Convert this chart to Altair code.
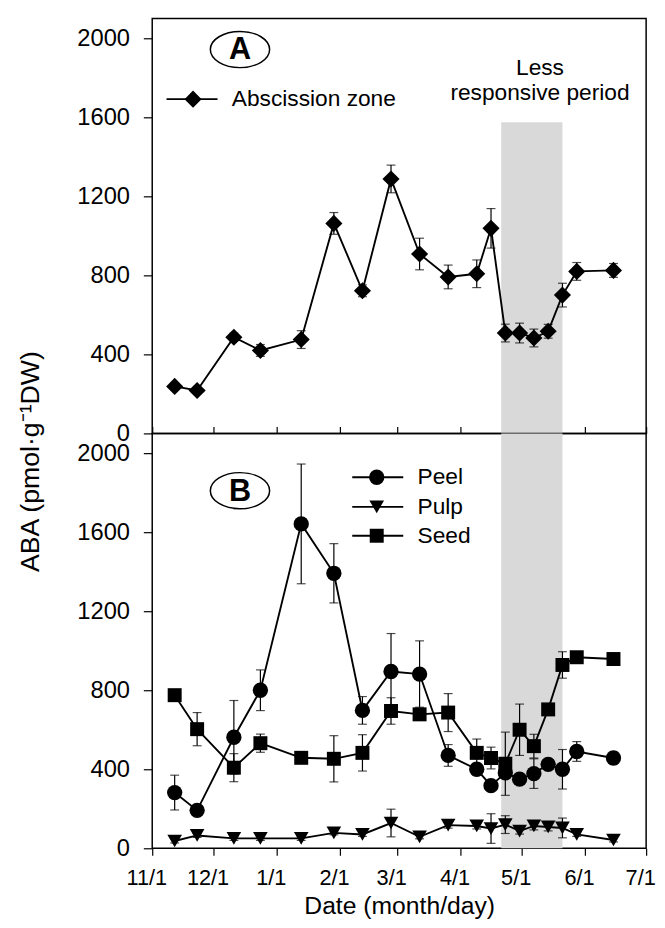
import altair as alt
import pandas as pd

# ---------------- data ----------------
dates = ["2006-11-12", "2006-11-23", "2006-12-11", "2006-12-24", "2007-01-13",
         "2007-01-29", "2007-02-12", "2007-02-26", "2007-03-12", "2007-03-26",
         "2007-04-09", "2007-04-16", "2007-04-23", "2007-04-30", "2007-05-07",
         "2007-05-14", "2007-05-21", "2007-05-28", "2007-06-15"]

abscission = [238, 217, 487, 420, 475, 1063, 722, 1288, 908, 792, 808, 1038,
              508, 508, 483, 517, 700, 820, 825]
abscission_err = [15, 15, 20, 30, 45, 55, 30, 70, 80, 60, 70, 100,
                  45, 50, 45, 35, 60, 45, 35]

peel = [282, 192, 562, 800, 1642, 1392, 698, 895, 882, 470, 400, 317,
        382, 350, 378, 425, 400, 490, 457]
peel_err = [88, 10, 186, 103, 303, 150, 70, 192, 168, 55, 30, 15,
            25, 20, 75, 20, 100, 50, 30]

pulp = [37, 65, 50, 50, 50, 78, 70, 128, 58, 117, 113, 100,
        120, 87, 113, 108, 103, 70, 42]
pulp_err = [10, 10, 10, 10, 10, 10, 10, 70, 10, 15, 15, 75,
            45, 15, 20, 20, 50, 10, 10]

seed = [775, 603, 408, 532, 458, 453, 483, 695, 678, 687, 483, 457,
        428, 600, 517, 703, 928, 967, 958]
seed_err = [20, 84, 71, 46, 20, 117, 92, 67, 20, 96, 70, 55,
            160, 130, 60, 20, 67, 20, 20]

series_names = ["Peel", "Pulp", "Seed"]
series_shapes = ["circle", "triangle-down", "square"]
series_sizes = [240, 200, 180]

month_ticks = ["2006-11-01", "2006-12-01", "2007-01-01", "2007-02-01", "2007-03-01",
               "2007-04-01", "2007-05-01", "2007-06-01", "2007-07-01"]
y_ticks = [0, 400, 800, 1200, 1600, 2000]
y_max = 2100

# shaded "less responsive period"
shade_start = "2007-04-21"
shade_end = "2007-05-21"
shade_top_a = 1575
shade_top_b = 2100

# annotation anchors (data coordinates)
panel_letter_date = "2006-12-14"
panel_letter_a_y = 1943
panel_letter_b_y = 1810
period_label_date = "2007-05-10"
period_label_lines = ["Less", "responsive period"]
period_label_y = [1850, 1722]

legend_a_line = ["2006-11-08", "2006-12-03"]
legend_a_marker = "2006-11-21"
legend_a_text = "2006-12-10"
legend_a_y = 1692

legend_b_line = ["2007-02-07", "2007-03-04"]
legend_b_marker = "2007-02-19"
legend_b_text = "2007-03-11"
legend_b_y = [1878, 1728, 1582]

FONT = "Liberation Sans"


def dt(s):
    y, m, d = (int(p) for p in s.split("-"))
    return alt.DateTime(year=y, month=m, date=d, utc=True)


x_scale = alt.Scale(type="utc", domain=[dt(month_ticks[0]), dt(month_ticks[-1])])
y_scale = alt.Scale(domain=[0, y_max], nice=False)

x_axis_a = alt.Axis(values=[dt(s) for s in month_ticks], labels=False, title=None,
                    tickSize=7, offset=-7, domain=False, grid=False,
                    tickColor="black", tickWidth=1.2)
x_axis_b = alt.Axis(values=[dt(s) for s in month_ticks], format="%-m/%-d",
                    title="Date (month/day)", tickSize=7, labelPadding=13,
                    labelFontSize=22, titleFontSize=25, titlePadding=5,
                    domain=False, grid=False, labelOffset=-6, labelOverlap=False,
                    labelFlush=False, tickColor="black", tickWidth=1.2,
                    titleFontWeight="normal")
y_axis_a = alt.Axis(values=y_ticks, format="d", title="ABA (pmol·g⁻¹DW)",
                    titleX=-109, titleY=448,
                    titleFontSize=27, titleFontWeight="normal", tickSize=9,
                    labelPadding=14, labelFontSize=24, domain=False, grid=False,
                    tickColor="black", tickWidth=1.2)
y_axis_b = alt.Axis(values=y_ticks, format="d", title=None, tickSize=9, labelPadding=14,
                    labelFontSize=24, domain=False, grid=False,
                    tickColor="black", tickWidth=1.2)


def X(field, axis):
    return alt.X(f"{field}:T", scale=x_scale, axis=axis)


def Y(field, axis):
    return alt.Y(f"{field}:Q", scale=y_scale, axis=axis)


def err_df(vals, errs, name):
    return pd.DataFrame({
        "date": dates, "v": vals,
        "lo": [v - e for v, e in zip(vals, errs)],
        "hi": [v + e for v, e in zip(vals, errs)],
        "series": name,
    })


def panel(df, xa, ya, shade_top, point_layers, legend_layers, letter_y, letter, extra=None):
    shade = alt.Chart(pd.DataFrame({"date": [shade_start], "end": [shade_end],
                                    "v": [0], "top": [shade_top]})).mark_rect(
        color="#d9d9d9").encode(x=X("date", xa), x2="end:T", y=Y("v", ya), y2="top:Q")
    base = alt.Chart(df)
    rules = base.mark_rule(color="black", strokeWidth=1.2).encode(
        x=X("date", xa), y=Y("lo", ya), y2="hi:Q")
    cap_hi = base.mark_tick(orient="horizontal", size=9, thickness=1.2, color="black").encode(
        x=X("date", xa), y=Y("hi", ya))
    cap_lo = base.mark_tick(orient="horizontal", size=9, thickness=1.2, color="black").encode(
        x=X("date", xa), y=Y("lo", ya))
    lines = base.mark_line(color="black", strokeWidth=1.9).encode(
        x=X("date", xa), y=Y("v", ya), detail="series:N")
    ell = alt.Chart(pd.DataFrame({"date": [panel_letter_date], "v": [letter_y]})).mark_point(
        shape="M-1,0A1,0.61,0,1,0,1,0A1,0.61,0,1,0,-1,0Z", size=3600, filled=False,
        stroke="black", strokeWidth=1.5, opacity=1).encode(x=X("date", xa), y=Y("v", ya))
    let = alt.Chart(pd.DataFrame({"date": [panel_letter_date], "v": [letter_y], "t": [letter]})).mark_text(
        font=FONT, fontSize=31, fontWeight="bold", color="black", baseline="middle",
        align="center", dy=1).encode(x=X("date", xa), y=Y("v", ya), text="t:N")
    layers = [shade, rules, cap_hi, cap_lo, lines] + point_layers + legend_layers + [ell, let]
    if extra:
        layers += extra
    return alt.layer(*layers).properties(width=500, height=420)


# ---------- panel A ----------
df_a = err_df(abscission, abscission_err, "Abscission zone")
pts_a = alt.Chart(df_a).mark_point(shape="diamond", filled=True, size=300, color="black",
                                   opacity=1).encode(x=X("date", x_axis_a), y=Y("v", y_axis_a))
leg_a_line = alt.Chart(pd.DataFrame({"date": [legend_a_line[0]], "end": [legend_a_line[1]],
                                     "v": [legend_a_y]})).mark_rule(
    color="black", strokeWidth=1.9).encode(x=X("date", x_axis_a), x2="end:T", y=Y("v", y_axis_a))
leg_a_pt = alt.Chart(pd.DataFrame({"date": [legend_a_marker], "v": [legend_a_y]})).mark_point(
    shape="diamond", filled=True, size=300, color="black", opacity=1).encode(
    x=X("date", x_axis_a), y=Y("v", y_axis_a))
leg_a_txt = alt.Chart(pd.DataFrame({"date": [legend_a_text], "v": [legend_a_y],
                                    "t": ["Abscission zone"]})).mark_text(
    font=FONT, fontSize=23, color="black", align="left", baseline="middle").encode(
    x=X("date", x_axis_a), y=Y("v", y_axis_a), text="t:N")
period_txt = alt.Chart(pd.DataFrame({"date": [period_label_date] * 2, "v": period_label_y,
                                     "t": period_label_lines})).mark_text(
    font=FONT, fontSize=23, color="black", align="center", baseline="middle").encode(
    x=X("date", x_axis_a), y=Y("v", y_axis_a), text="t:N")

chart_a = panel(df_a, x_axis_a, y_axis_a, shade_top_a, [pts_a],
                [leg_a_line, leg_a_pt, leg_a_txt], panel_letter_a_y, "A", [period_txt])

# ---------- panel B ----------
df_b = pd.concat([err_df(peel, peel_err, "Peel"), err_df(pulp, pulp_err, "Pulp"),
                  err_df(seed, seed_err, "Seed")], ignore_index=True)
shape_enc = alt.Shape("series:N", scale=alt.Scale(domain=series_names, range=series_shapes),
                      legend=None)
size_enc = alt.Size("series:N", scale=alt.Scale(domain=series_names, range=series_sizes),
                    legend=None)
pts_b = alt.Chart(df_b).mark_point(filled=True, color="black", opacity=1).encode(
    x=X("date", x_axis_b), y=Y("v", y_axis_b), shape=shape_enc, size=size_enc)

leg_df = pd.DataFrame({"date": [legend_b_line[0]] * 3, "end": [legend_b_line[1]] * 3,
                       "mdate": [legend_b_marker] * 3, "tdate": [legend_b_text] * 3,
                       "v": legend_b_y, "series": series_names})
leg_b_line = alt.Chart(leg_df).mark_rule(color="black", strokeWidth=1.9).encode(
    x=X("date", x_axis_b), x2="end:T", y=Y("v", y_axis_b))
leg_b_pt = alt.Chart(leg_df).mark_point(filled=True, color="black", opacity=1).encode(
    x=X("mdate", x_axis_b), y=Y("v", y_axis_b), shape=shape_enc, size=size_enc)
leg_b_txt = alt.Chart(leg_df).mark_text(font=FONT, fontSize=23, color="black", align="left",
                                        baseline="middle").encode(
    x=X("tdate", x_axis_b), y=Y("v", y_axis_b), text="series:N")

chart_b = panel(df_b, x_axis_b, y_axis_b, shade_top_b, [pts_b],
                [leg_b_line, leg_b_pt, leg_b_txt], panel_letter_b_y, "B")

chart = alt.vconcat(chart_a, chart_b, spacing=0, bounds="flush").properties(
    padding={"left": 8, "top": 4, "right": 0, "bottom": 0},
    background="white",
).configure_view(stroke="black", strokeWidth=1.5).configure_axis(
    labelFont=FONT, titleFont=FONT, labelColor="black", titleColor="black"
)

chart.save("out.html", embed_options={"renderer": "svg", "actions": False})
